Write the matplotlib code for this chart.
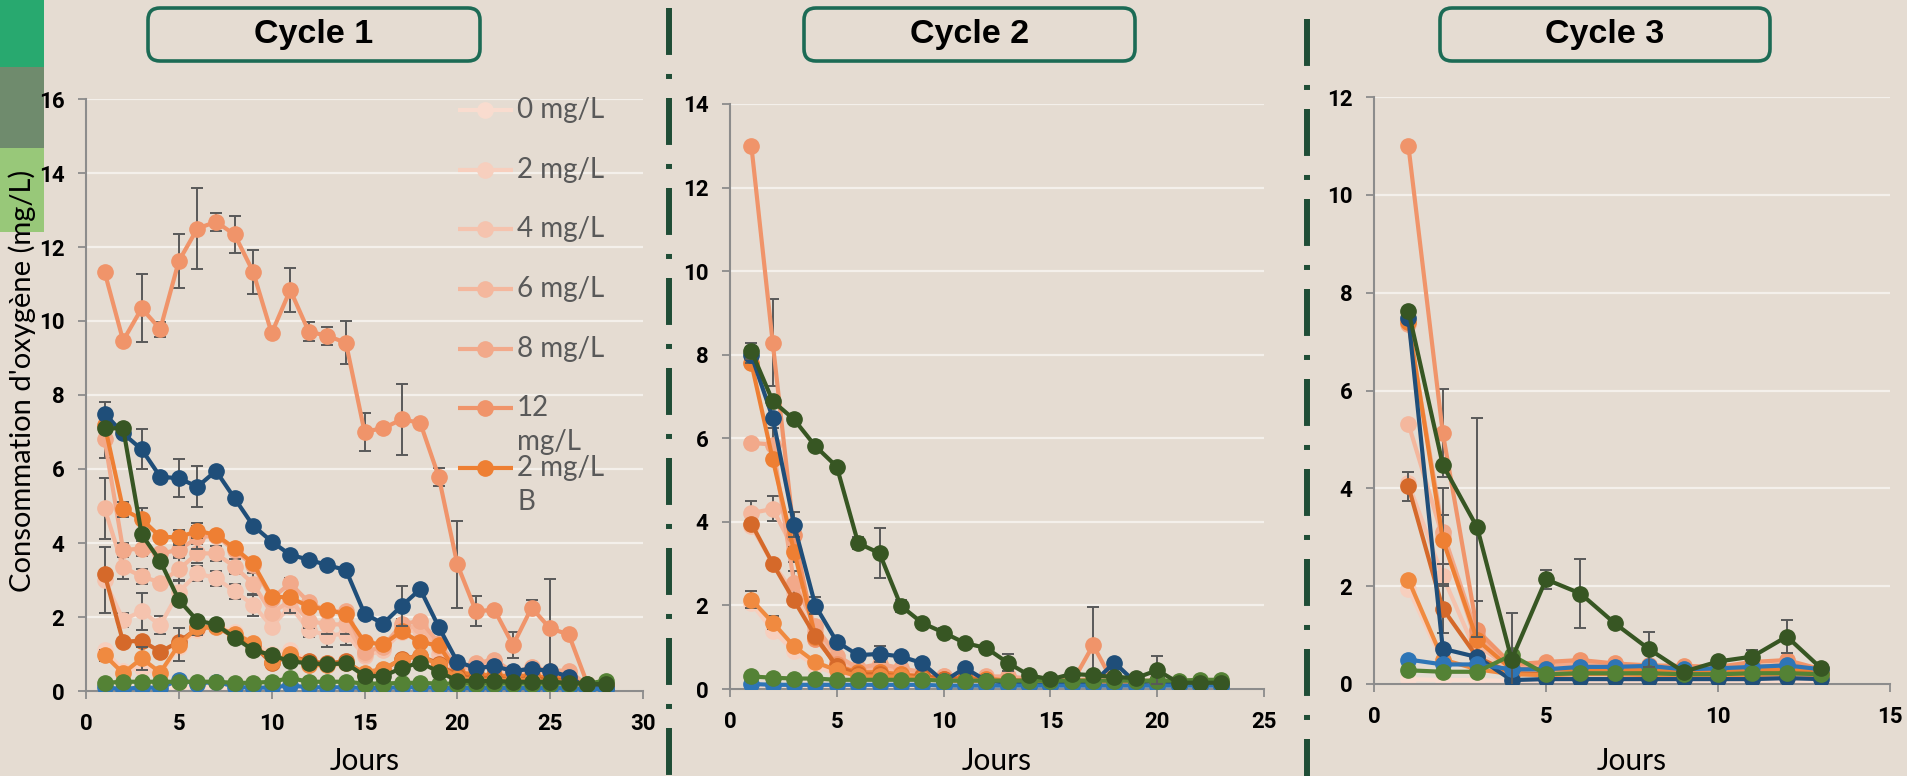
import matplotlib
matplotlib.use("Agg")
import matplotlib.pyplot as plt
from matplotlib.patches import FancyBboxPatch, Rectangle

plt.rcParams["font.family"] = ["Lato", "DejaVu Sans"]
plt.rcParams["lines.scale_dashes"] = False

W, H = 1907, 776
BG = "#E5DCD2"
GRID = "#F4F0EB"
AXIS = "#8C8C8C"
ERR = "#595959"
TICK_FONT = ["Roboto", "DejaVu Sans"]

# ---- Cycle 1 (days 1-28) ----
c1_days = list(range(1, 29))
c1_0mg = [0.1, 0.08, 0.1, 0.08, 0.12, 0.1, 0.1, 0.08, 0.08, 0.1, 0.1, 0.08, 0.08, 0.08,
          0.06, 0.06, 0.08, 0.08, 0.06, 0.06, 0.06, 0.06, 0.05, 0.05, 0.05, 0.05, 0.04, 0.04]
c1_2mg = [1.11, 0.55, 0.62, 0.45, 1.2, 1.65, 1.75, 1.6, 1.3, 1.0, 1.1, 0.8, 0.75, 0.8,
          0.45, 0.55, 0.8, 0.9, 0.6, 0.3, 0.3, 0.35, 0.25, 0.3, 0.25, 0.25, 0.1, 0.1]
c1_4mg = [3.0, 1.92, 2.16, 1.78, 2.68, 3.18, 3.05, 2.7, 2.33, 1.74, 2.3, 1.65, 1.5, 1.55,
          0.95, 1.1, 1.6, 1.65, 1.0, 0.5, 0.6, 0.65, 0.4, 0.5, 0.45, 0.45, 0.12, 0.1]
c1_6mg = [4.94, 3.34, 3.1, 2.93, 3.29, 3.72, 3.72, 3.36, 2.9, 2.1, 2.45, 1.9, 1.8, 1.8,
          1.0, 1.25, 1.7, 1.75, 1.2, 0.55, 0.7, 0.8, 0.45, 0.6, 0.5, 0.5, 0.15, 0.12]
c1_8mg = [6.8, 3.81, 3.85, 3.72, 3.81, 4.15, 4.2, 3.8, 3.4, 2.5, 2.91, 2.4, 2.15, 2.15,
          1.05, 1.2, 1.8, 1.9, 1.3, 0.65, 0.75, 0.85, 0.5, 0.65, 0.55, 0.55, 0.15, 0.12]
c1_12mg = [11.33, 9.47, 10.34, 9.78, 11.62, 12.5, 12.68, 12.34, 11.33, 9.67, 10.84, 9.71, 9.6, 9.41,
           7.01, 7.1, 7.34, 7.25, 5.79, 3.42, 2.16, 2.19, 1.24, 2.25, 1.69, 1.53, 0.2, 0.15]
c1_2mgB = [7.2, 4.91, 4.64, 4.17, 4.15, 4.33, 4.22, 3.86, 3.45, 2.55, 2.53, 2.28, 2.2, 2.07,
           1.32, 1.26, 1.61, 1.32, 1.23, 0.5, 0.45, 0.42, 0.4, 0.42, 0.35, 0.35, 0.15, 0.12]
c1_rust = [3.16, 1.33, 1.36, 1.06, 1.33, 1.69, 1.75, 1.45, 1.25, 0.75, 0.95, 0.8, 0.75, 0.8,
           0.46, 0.57, 0.87, 0.95, 0.74, 0.4, 0.35, 0.35, 0.3, 0.35, 0.3, 0.3, 0.12, 0.1]
c1_orange = [0.97, 0.48, 0.88, 0.5, 1.25, 1.72, 1.72, 1.55, 1.3, 0.78, 1.0, 0.7, 0.7, 0.75,
             0.5, 0.6, 0.85, 0.95, 0.7, 0.35, 0.3, 0.3, 0.3, 0.3, 0.25, 0.25, 0.1, 0.1]
c1_navy = [7.5, 6.96, 6.53, 5.79, 5.75, 5.52, 5.95, 5.21, 4.47, 4.04, 3.68, 3.55, 3.4, 3.27,
           2.09, 1.82, 2.3, 2.75, 1.73, 0.79, 0.62, 0.67, 0.54, 0.6, 0.54, 0.39, 0.08, 0.07]
c1_blue = [0.1, 0.05, 0.1, 0.08, 0.3, 0.2, 0.25, 0.12, 0.08, 0.1, 0.15, 0.1, 0.1, 0.1,
           0.08, 0.08, 0.1, 0.1, 0.08, 0.08, 0.08, 0.08, 0.08, 0.08, 0.08, 0.08, 0.05, 0.05]
c1_green = [0.22, 0.25, 0.25, 0.25, 0.25, 0.25, 0.25, 0.22, 0.22, 0.25, 0.35, 0.25, 0.25, 0.25,
            0.2, 0.2, 0.22, 0.22, 0.2, 0.2, 0.2, 0.2, 0.2, 0.2, 0.2, 0.2, 0.2, 0.28]
c1_dkgreen = [7.1, 7.1, 4.23, 3.51, 2.46, 1.9, 1.8, 1.44, 1.11, 0.97, 0.8, 0.75, 0.72, 0.75,
              0.41, 0.4, 0.62, 0.77, 0.52, 0.28, 0.27, 0.27, 0.25, 0.25, 0.25, 0.22, 0.2, 0.18]

c1_err_12mg = [0.1, 0, 0.92, 0.2, 0.73, 1.1, 0.25, 0.5, 0.6, 0, 0.6, 0.25, 0.25, 0.58,
               0.51, 0, 0.97, 0, 0.25, 1.17, 0.4, 0, 0.35, 0.2, 1.35, 0, 0, 0]
c1_err_navy = [0.32, 0, 0.54, 0, 0.52, 0.55, 0, 0, 0, 0, 0, 0, 0, 0,
               0, 0, 0.55, 0, 0, 0.1, 0, 0, 0, 0, 0, 0, 0, 0]
c1_err_8mg = [0.5, 0.2, 0.2, 0, 0.2, 0.3, 0, 0, 0, 0, 0.15, 0, 0, 0,
              0, 0, 0.15, 0, 0.1, 0, 0, 0, 0, 0.1, 0, 0, 0, 0]
c1_err_6mg = [0.83, 0.3, 0.2, 0, 0.3, 0.25, 0.2, 0.2, 0.3, 0, 0.35, 0.2, 0.25, 0.25,
              0, 0, 0.2, 0, 0, 0.1, 0, 0, 0, 0, 0, 0, 0, 0]
c1_err_4mg = [0.89, 0.2, 0.5, 0.25, 0.3, 0.2, 0.2, 0.2, 0.3, 0, 0.2, 0.2, 0.3, 0.3,
              0, 0, 0, 0, 0, 0, 0, 0, 0, 0, 0, 0, 0, 0]
c1_err_2mgB = [0, 0.2, 0.3, 0, 0.2, 0.2, 0, 0, 0, 0, 0, 0, 0, 0,
               0, 0, 0, 0, 0, 0, 0, 0, 0, 0, 0.25, 0, 0, 0]
c1_err_orange = [0.15, 0.1, 0.3, 0, 0.45, 0.2, 0, 0, 0, 0, 0, 0, 0, 0,
                 0, 0, 0, 0, 0, 0, 0, 0, 0, 0, 0, 0, 0, 0]

# ---- Cycle 2 (days 1-23) ----
c2_days = list(range(1, 24))
c2_0mg = [0.08, 0.08, 0.08, 0.08, 0.08, 0.08, 0.08, 0.08, 0.08, 0.06, 0.06, 0.06,
          0.06, 0.06, 0.06, 0.06, 0.06, 0.06, 0.06, 0.06, 0.05, 0.05, 0.05]
c2_2mg = [2.05, 1.4, 0.9, 0.55, 0.35, 0.3, 0.3, 0.3, 0.25, 0.2, 0.2, 0.2,
          0.15, 0.15, 0.15, 0.12, 0.15, 0.12, 0.12, 0.12, 0.1, 0.1, 0.1]
c2_4mg = [3.9, 3.0, 2.3, 1.2, 0.6, 0.4, 0.4, 0.4, 0.3, 0.25, 0.25, 0.2,
          0.2, 0.2, 0.15, 0.15, 0.2, 0.15, 0.15, 0.15, 0.12, 0.12, 0.12]
c2_6mg = [4.21, 4.31, 3.33, 1.4, 0.7, 0.45, 0.5, 0.45, 0.35, 0.3, 0.25, 0.25,
          0.25, 0.2, 0.2, 0.2, 0.2, 0.2, 0.15, 0.2, 0.15, 0.15, 0.15]
c2_8mg = [5.89, 5.85, 2.53, 1.5, 0.8, 0.5, 0.6, 0.5, 0.4, 0.3, 0.3, 0.3,
          0.3, 0.25, 0.2, 0.2, 0.25, 0.2, 0.2, 0.2, 0.15, 0.15, 0.15]
c2_12mg = [13.0, 8.29, 3.69, 1.2, 0.6, 0.35, 0.4, 0.35, 0.3, 0.2, 0.2, 0.2,
           0.2, 0.15, 0.15, 0.14, 1.05, 0.1, 0.12, 0.2, 0.12, 0.12, 0.12]
c2_2mgB = [7.8, 5.5, 3.29, 1.25, 0.54, 0.4, 0.4, 0.35, 0.3, 0.25, 0.25, 0.25,
           0.2, 0.2, 0.2, 0.2, 0.2, 0.15, 0.15, 0.2, 0.15, 0.15, 0.15]
c2_rust = [3.96, 3.0, 2.12, 1.26, 0.54, 0.35, 0.35, 0.3, 0.3, 0.25, 0.25, 0.2,
           0.2, 0.2, 0.15, 0.15, 0.15, 0.15, 0.15, 0.15, 0.12, 0.12, 0.12]
c2_orange = [2.14, 1.59, 1.02, 0.64, 0.45, 0.3, 0.3, 0.3, 0.25, 0.2, 0.2, 0.2,
             0.2, 0.15, 0.15, 0.15, 0.15, 0.15, 0.15, 0.15, 0.12, 0.12, 0.12]
c2_navy = [7.99, 6.49, 3.93, 1.99, 1.13, 0.81, 0.84, 0.78, 0.62, 0.18, 0.5, 0.2,
           0.15, 0.1, 0.1, 0.15, 0.15, 0.63, 0.15, 0.2, 0.1, 0.1, 0.1]
c2_blue = [0.12, 0.1, 0.1, 0.1, 0.1, 0.1, 0.1, 0.1, 0.1, 0.08, 0.08, 0.08,
           0.08, 0.08, 0.08, 0.08, 0.08, 0.08, 0.08, 0.08, 0.08, 0.08, 0.08]
c2_green = [0.3, 0.27, 0.25, 0.25, 0.22, 0.22, 0.22, 0.22, 0.22, 0.2, 0.2, 0.2,
            0.2, 0.2, 0.2, 0.2, 0.2, 0.2, 0.2, 0.2, 0.2, 0.22, 0.22]
c2_dkgreen = [8.09, 6.89, 6.45, 5.81, 5.32, 3.49, 3.25, 1.99, 1.58, 1.35, 1.1, 0.98,
              0.63, 0.33, 0.23, 0.36, 0.33, 0.29, 0.26, 0.45, 0.15, 0.15, 0.15]

c2_err_12mg = [0, 1.05, 0.3, 0, 0, 0, 0, 0, 0, 0, 0, 0,
               0, 0, 0, 0, 0.92, 0, 0, 0, 0, 0, 0]
c2_err_dkgreen = [0.2, 0, 0, 0, 0, 0.15, 0.6, 0.15, 0, 0.12, 0, 0,
                  0.2, 0, 0, 0, 0, 0, 0, 0.34, 0, 0, 0]
c2_err_navy = [0.2, 0, 0.3, 0.2, 0, 0, 0.2, 0, 0, 0, 0, 0,
               0, 0, 0, 0, 0, 0, 0, 0, 0, 0, 0]
c2_err_8mg = [0.1, 0.4, 0.3, 0, 0, 0, 0, 0, 0, 0, 0, 0,
              0, 0, 0, 0, 0, 0, 0, 0, 0, 0, 0]
c2_err_6mg = [0.3, 0.3, 0.3, 0, 0, 0, 0, 0, 0, 0, 0, 0,
              0, 0, 0, 0, 0, 0, 0, 0, 0, 0, 0]
c2_err_orange = [0.2, 0.15, 0, 0, 0, 0, 0, 0, 0, 0, 0, 0,
                 0, 0, 0, 0, 0, 0, 0, 0, 0, 0, 0]

# ---- Cycle 3 (days 1-13) ----
c3_days = list(range(1, 14))
c3_0mg = [0.1, 0.08, 0.08, 0.06, 0.06, 0.06, 0.06, 0.06, 0.06, 0.06, 0.06, 0.06, 0.06]
c3_2mg = [1.95, 0.45, 0.35, 0.25, 0.25, 0.25, 0.25, 0.25, 0.2, 0.2, 0.25, 0.25, 0.2]
c3_4mg = [4.1, 2.2, 0.6, 0.3, 0.3, 0.3, 0.3, 0.3, 0.25, 0.25, 0.3, 0.3, 0.25]
c3_6mg = [5.32, 3.0, 0.8, 0.3, 0.35, 0.4, 0.35, 0.3, 0.3, 0.3, 0.3, 0.35, 0.25]
c3_8mg = [7.35, 3.11, 1.0, 0.35, 0.4, 0.42, 0.4, 0.35, 0.3, 0.3, 0.35, 0.4, 0.28]
c3_12mg = [11.0, 5.13, 1.1, 0.4, 0.45, 0.49, 0.42, 0.38, 0.37, 0.35, 0.45, 0.49, 0.3]
c3_2mgB = [7.4, 2.95, 0.9, 0.3, 0.3, 0.3, 0.3, 0.28, 0.25, 0.25, 0.28, 0.3, 0.25]
c3_rust = [4.04, 1.54, 0.55, 0.22, 0.2, 0.22, 0.2, 0.2, 0.2, 0.2, 0.2, 0.22, 0.2]
c3_orange = [2.13, 0.5, 0.3, 0.2, 0.18, 0.2, 0.2, 0.18, 0.18, 0.18, 0.18, 0.2, 0.18]
c3_navy = [7.48, 0.72, 0.55, 0.08, 0.1, 0.1, 0.1, 0.1, 0.1, 0.1, 0.1, 0.12, 0.1]
c3_blue = [0.5, 0.4, 0.4, 0.3, 0.3, 0.35, 0.35, 0.37, 0.3, 0.32, 0.35, 0.38, 0.3]
c3_green = [0.28, 0.25, 0.25, 0.59, 0.2, 0.22, 0.22, 0.22, 0.2, 0.2, 0.22, 0.22, 0.2]
c3_dkgreen = [7.63, 4.48, 3.2, 0.5, 2.14, 1.85, 1.24, 0.71, 0.25, 0.46, 0.56, 0.97, 0.32]

c3_err_12mg = [0, 0.9, 0.6, 0, 0, 0, 0, 0, 0, 0, 0, 0, 0]
c3_err_dkgreen = [0, 0, 2.23, 0.95, 0.2, 0.7, 0.05, 0.36, 0, 0, 0.13, 0.34, 0]
c3_err_6mg = [0, 1.0, 0.4, 0, 0, 0, 0, 0, 0, 0, 0, 0, 0]
c3_err_2mgB = [0, 0.5, 0, 0, 0, 0, 0, 0, 0, 0, 0, 0, 0]
c3_err_rust = [0.3, 0.5, 0, 0, 0, 0, 0, 0, 0, 0, 0, 0, 0]

# series order = drawing order; only the first seven have visible legend entries
SERIES = ["0 mg/L", "2 mg/L", "4 mg/L", "6 mg/L", "8 mg/L", "12 mg/L", "2 mg/L B",
          "rust", "orange", "navy", "blue", "green", "dkgreen"]
COLORS = ["#F9DCCF", "#F7CFBE", "#F5C3AE", "#F4B79D", "#F2A98A", "#F0946A", "#EE7F33",
          "#D5692A", "#F08A40", "#1F4E79", "#2E75B6", "#548235", "#375623"]

cycles = [
    dict(days=c1_days, xmax=30, ymax=16, box=(86, 99, 643, 691),
         vals=[c1_0mg, c1_2mg, c1_4mg, c1_6mg, c1_8mg, c1_12mg, c1_2mgB,
               c1_rust, c1_orange, c1_navy, c1_blue, c1_green, c1_dkgreen],
         errs={"12 mg/L": c1_err_12mg, "navy": c1_err_navy, "8 mg/L": c1_err_8mg,
               "6 mg/L": c1_err_6mg, "4 mg/L": c1_err_4mg, "2 mg/L B": c1_err_2mgB,
               "orange": c1_err_orange}),
    dict(days=c2_days, xmax=25, ymax=14, box=(730, 104, 1264, 689),
         vals=[c2_0mg, c2_2mg, c2_4mg, c2_6mg, c2_8mg, c2_12mg, c2_2mgB,
               c2_rust, c2_orange, c2_navy, c2_blue, c2_green, c2_dkgreen],
         errs={"12 mg/L": c2_err_12mg, "dkgreen": c2_err_dkgreen, "navy": c2_err_navy,
               "8 mg/L": c2_err_8mg, "6 mg/L": c2_err_6mg, "orange": c2_err_orange}),
    dict(days=c3_days, xmax=15, ymax=12, box=(1374, 97, 1890, 684),
         vals=[c3_0mg, c3_2mg, c3_4mg, c3_6mg, c3_8mg, c3_12mg, c3_2mgB,
               c3_rust, c3_orange, c3_navy, c3_blue, c3_green, c3_dkgreen],
         errs={"12 mg/L": c3_err_12mg, "dkgreen": c3_err_dkgreen, "6 mg/L": c3_err_6mg,
               "2 mg/L B": c3_err_2mgB, "rust": c3_err_rust}),
]
TITLES = ["Cycle 1", "Cycle 2", "Cycle 3"]
TITLE_BOXES = [(148, 480), (804, 1135), (1440, 1770)]


def px_axes(fig, left, top, right, bottom, **kw):
    return fig.add_axes([left / W, 1 - bottom / H, (right - left) / W, (bottom - top) / H], **kw)


def canvas(fig, z):
    ax = fig.add_axes([0, 0, 1, 1], zorder=z)
    ax.set_xlim(0, W)
    ax.set_ylim(H, 0)
    ax.axis("off")
    ax.patch.set_alpha(0)
    return ax


fig = plt.figure(figsize=(W / 100, H / 100), dpi=100, facecolor=BG)
bg = canvas(fig, -1)
fg = canvas(fig, 10)

# colour tabs on the left edge
bg.add_patch(Rectangle((0, 0), 44, 67, fc="#28A96F", ec="none"))
bg.add_patch(Rectangle((0, 67), 44, 81, fc="#6F8B6D", ec="none"))
bg.add_patch(Rectangle((0, 148), 44, 84, fc="#98C879", ec="none"))

# dash-dot separators between the panels
for x, y0 in [(669, 8), (1307, 19)]:
    bg.plot([x, x], [y0, H], color="#1F4D36", lw=4.3, solid_capstyle="butt",
            dash_capstyle="butt", linestyle=(0, (33.8, 13.7, 3.6, 13.7)))

# title boxes
for title, (x0, x1) in zip(TITLES, TITLE_BOXES):
    bg.add_patch(FancyBboxPatch((x0, 8), x1 - x0, 53, boxstyle="round,pad=0,rounding_size=12",
                                fc="none", ec="#1C6B55", lw=2.6))
    bg.text((x0 + x1) / 2, 35, title, ha="center", va="center", fontsize=24.5,
            fontweight="bold", family=["Liberation Sans", "DejaVu Sans"], color="black")

for cyc in cycles:
    left, top, right, bottom = cyc["box"]
    ax = px_axes(fig, left, top, right, bottom)
    ax.set_facecolor("none")
    for name, color, vals in zip(SERIES, COLORS, cyc["vals"]):
        z = 2 + SERIES.index(name) * 0.1
        err = cyc["errs"].get(name)
        if err is not None:
            ax.errorbar(cyc["days"], vals, yerr=err, fmt="none", ecolor=ERR,
                        elinewidth=1.4, capsize=4, capthick=1.4, zorder=z - 0.05)
        ax.plot(cyc["days"], vals, color=color, lw=3, marker="o", ms=11,
                solid_joinstyle="round", zorder=z)
    ax.set_xlim(0, cyc["xmax"])
    ax.set_ylim(0, cyc["ymax"])
    ax.set_xticks(range(0, cyc["xmax"] + 1, 5))
    ax.set_yticks(range(0, cyc["ymax"] + 1, 2))
    ax.grid(axis="y", color=GRID, lw=1.6)
    ax.set_axisbelow(True)
    for side in ("top", "right"):
        ax.spines[side].set_visible(False)
    for side in ("left", "bottom"):
        ax.spines[side].set_color(AXIS)
        ax.spines[side].set_linewidth(1.5)
    ax.tick_params(direction="out", length=5.5, width=1.3, color=AXIS, pad=10,
                   labelcolor="black")
    for lab in ax.get_xticklabels() + ax.get_yticklabels():
        lab.set_family(TICK_FONT)
        lab.set_fontweight("bold")
        lab.set_fontsize(16)
    ax.set_xlabel("Jours", fontsize=21.5, color="black")
    ax.xaxis.set_label_coords(0.5, (bottom - 761) / (bottom - top))
    ax.xaxis.label.set_va("center")

fig.text(22 / W, 1 - 381 / H, "Consommation d'oxygène (mg/L)", rotation=90,
         ha="center", va="center", fontsize=21, color="black")

# legend (only the entries that fit in the frame)
legend_rows = [("0 mg/L", 110, []), ("2 mg/L", 170, []), ("4 mg/L", 229, []),
               ("6 mg/L", 289, []), ("8 mg/L", 349, []),
               ("12", 408, ["mg/L"]), ("2 mg/L", 468, ["B"])]
for (text, y, extra), color in zip(legend_rows, COLORS):
    fg.plot([458, 513], [y, y], color=color, lw=3, solid_capstyle="butt")
    fg.plot([485], [y], "o", color=color, ms=11)
    fg.text(517, y, text, ha="left", va="center", fontsize=20, color="#595959")
    for i, line in enumerate(extra):
        fg.text(517, y + 34 * (i + 1), line, ha="left", va="center", fontsize=20, color="#595959")

fig.savefig("out.png", dpi=100, facecolor=BG)
